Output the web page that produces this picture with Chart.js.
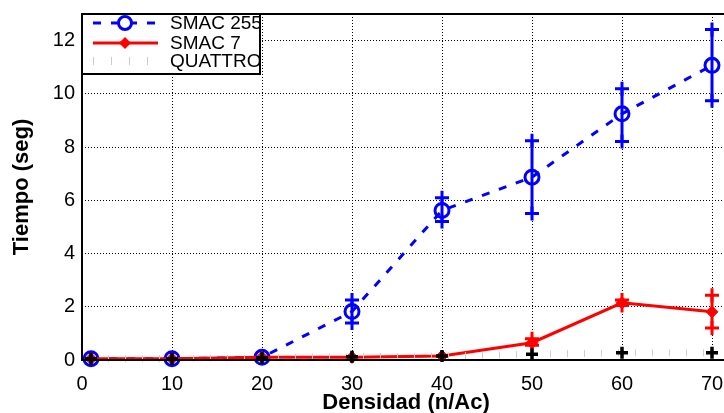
<!DOCTYPE html>
<html>
<head>
<meta charset="utf-8">
<script src="https://cdn.jsdelivr.net/npm/chart.js@4.4.1/dist/chart.umd.min.js"></script>
<style>
  html, body { margin: 0; padding: 0; background: #fff; overflow: hidden; }
  canvas { display: block; }
</style>
</head>
<body>
<canvas id="tiempos" width="730" height="413"></canvas>
<script>
// densidad (n/Ac) en el eje x
const densidad = [1, 10, 20, 30, 40, 50, 60, 70];

// tiempos medios (seg)
const smac255 = [0.05, 0.05, 0.1, 1.82, 5.62, 6.87, 9.25, 11.07];
const smac7 = [0.05, 0.05, 0.1, 0.1, 0.15, 0.65, 2.15, 1.81];
const quattro = [0.05, 0.05, 0.08, 0.12, 0.15, 0.22, 0.27, 0.27];

// barras de error (min / max), null = sin barra
const smac255Lo = [null, null, null, 1.39, 5.2, 5.5, 8.21, 9.74];
const smac255Hi = [null, null, null, 2.25, 6.1, 8.24, 10.19, 12.42];
const smac7Lo = [null, null, null, null, null, 0.55, 2.05, 1.2];
const smac7Hi = [null, null, null, null, null, 0.8, 2.25, 2.43];

const yTicks = [0, 2, 4, 6, 8, 10, 12];
const xTicks = [0, 10, 20, 30, 40, 50, 60, 70];

const AZUL = '#0000ff';
const ROJO = '#ff0000';
const FUENTE = '"Liberation Sans", Arial, sans-serif';

function puntos(ys) {
    return densidad.map((x, i) => ({x: x, y: ys[i]}));
}

// cada barra de error es un segmento vertical; null corta la linea
function barras(lo, hi) {
    var out = [];
    for (var i = 0; i < densidad.length; i++) {
        if (lo[i] == null) continue;
        out.push({x: densidad[i], y: lo[i]});
        out.push({x: densidad[i], y: hi[i]});
        out.push({x: densidad[i], y: null});
    }
    return out;
}

// leyenda dentro del area del grafico, arriba a la izquierda
const leyendaInterior = {
    id: 'leyendaInterior',
    afterDatasetsDraw(chart) {
        const c = chart.ctx;
        const a = chart.chartArea;
        const x0 = a.left, y0 = a.top, w = 178, h = 60;
        c.save();
        c.fillStyle = '#fff';
        c.fillRect(x0, y0, w, h);
        c.strokeStyle = '#000';
        c.lineWidth = 2;
        c.strokeRect(x0, y0, w, h);

        const filas = [y0 + 9, y0 + 29, y0 + 47];
        const l1 = x0 + 11, l2 = x0 + 76, mx = x0 + 43;

        // SMAC 255
        c.strokeStyle = AZUL;
        c.lineWidth = 3;
        c.setLineDash([8, 10]);
        c.beginPath(); c.moveTo(l1, filas[0]); c.lineTo(l2, filas[0]); c.stroke();
        c.setLineDash([]);
        c.fillStyle = '#fff';
        c.beginPath(); c.arc(mx, filas[0], 6.5, 0, Math.PI * 2); c.fill(); c.stroke();

        // SMAC 7
        c.strokeStyle = ROJO;
        c.fillStyle = ROJO;
        c.beginPath(); c.moveTo(l1, filas[1]); c.lineTo(l2, filas[1]); c.stroke();
        c.beginPath();
        c.moveTo(mx, filas[1] - 6); c.lineTo(mx + 6, filas[1]);
        c.lineTo(mx, filas[1] + 6); c.lineTo(mx - 6, filas[1]);
        c.closePath(); c.fill();

        // QUATTRO
        c.strokeStyle = '#cccccc';
        c.lineWidth = 1;
        for (var t = l1; t <= l2; t += 18) {
            c.beginPath(); c.moveTo(t + 0.5, filas[2] - 4); c.lineTo(t + 0.5, filas[2] + 4); c.stroke();
        }

        c.fillStyle = '#000';
        c.font = '19px ' + FUENTE;
        c.textBaseline = 'middle';
        c.fillText('SMAC 255', x0 + 88, filas[0] + 1);
        c.fillText('SMAC 7', x0 + 88, filas[1] + 1);
        c.fillText('QUATTRO', x0 + 88, filas[2] + 1);
        c.restore();
    }
};

// marco: ejes izquierdo, inferior y superior
const marco = {
    id: 'marco',
    afterDatasetsDraw(chart) {
        const c = chart.ctx;
        const a = chart.chartArea;
        c.save();
        c.strokeStyle = '#000';
        c.lineWidth = 2;
        c.beginPath();
        c.moveTo(a.right + 5, a.top); c.lineTo(a.left, a.top);
        c.lineTo(a.left, a.bottom); c.lineTo(a.right + 5, a.bottom);
        c.stroke();
        c.restore();
    }
};

const ctx = document.getElementById('tiempos');
const grafico = new Chart(ctx, {
    type: 'line',
    data: {
        datasets: [
            {
                label: 'QUATTRO',
                data: puntos(quattro),
                borderColor: '#cccccc',
                borderWidth: 7,
                borderDash: [1, 16],
                pointStyle: 'cross',
                pointRadius: 6,
                pointBorderWidth: 3.5,
                pointBorderColor: '#000',
                pointBackgroundColor: '#000',
                order: 1
            },
            {
                label: 'SMAC 7',
                data: puntos(smac7),
                borderColor: ROJO,
                borderWidth: 3,
                pointStyle: 'rectRot',
                pointRadius: 6,
                pointBorderWidth: 1,
                pointBorderColor: ROJO,
                pointBackgroundColor: ROJO,
                order: 2
            },
            {
                label: 'SMAC 7 err',
                data: barras(smac7Lo, smac7Hi),
                borderColor: ROJO,
                borderWidth: 3,
                spanGaps: false,
                pointStyle: 'cross',
                pointRadius: 7,
                pointBorderWidth: 3,
                pointBorderColor: ROJO,
                order: 2
            },
            {
                label: 'SMAC 255',
                data: puntos(smac255),
                borderColor: AZUL,
                borderWidth: 3,
                borderDash: [8, 10],
                pointStyle: 'circle',
                pointRadius: 7,
                pointBorderWidth: 3,
                pointBorderColor: AZUL,
                pointBackgroundColor: 'rgba(0,0,0,0)',
                order: 3
            },
            {
                label: 'SMAC 255 err',
                data: barras(smac255Lo, smac255Hi),
                borderColor: AZUL,
                borderWidth: 3,
                spanGaps: false,
                pointStyle: 'cross',
                pointRadius: 7,
                pointBorderWidth: 3,
                pointBorderColor: AZUL,
                order: 3
            }
        ]
    },
    options: {
        responsive: false,
        animation: false,
        clip: false,
        layout: {
            autoPadding: false,
            padding: { top: 14, right: 0, left: 0, bottom: 0 }
        },
        plugins: {
            legend: { display: false },
            tooltip: { enabled: false }
        },
        scales: {
            x: {
                type: 'linear',
                min: 0,
                max: 72,
                afterFit(scale) {
                    scale.height = 53;
                    scale.paddingLeft = 0;
                    scale.paddingRight = 0;
                },
                afterBuildTicks(scale) { scale.ticks = xTicks.map(v => ({value: v})); },
                border: { display: false, dash: [1, 2] },
                grid: {
                    color: '#000',
                    lineWidth: 1,
                    drawTicks: false
                },
                ticks: {
                    color: '#000',
                    padding: 12,
                    maxRotation: 0,
                    font: { family: FUENTE, size: 20 }
                },
                title: {
                    display: true,
                    text: 'Densidad (n/Ac)',
                    color: '#000',
                    padding: { top: 0, bottom: -3 },
                    font: { family: FUENTE, size: 22, weight: 'bold' }
                }
            },
            y: {
                min: 0,
                max: 13,
                afterFit(scale) {
                    scale.width = 82;
                    scale.paddingTop = 0;
                    scale.paddingBottom = 0;
                },
                afterBuildTicks(scale) { scale.ticks = yTicks.map(v => ({value: v})); },
                border: { display: false, dash: [1, 2] },
                grid: {
                    color: '#000',
                    lineWidth: 1,
                    drawTicks: false
                },
                ticks: {
                    color: '#000',
                    padding: 7,
                    font: { family: FUENTE, size: 20 }
                },
                title: {
                    display: true,
                    text: 'Tiempo (seg)',
                    color: '#000',
                    padding: { top: 9, bottom: 0 },
                    font: { family: FUENTE, size: 22, weight: 'bold' }
                }
            }
        }
    },
    plugins: [marco, leyendaInterior]
});
</script>
</body>
</html>
